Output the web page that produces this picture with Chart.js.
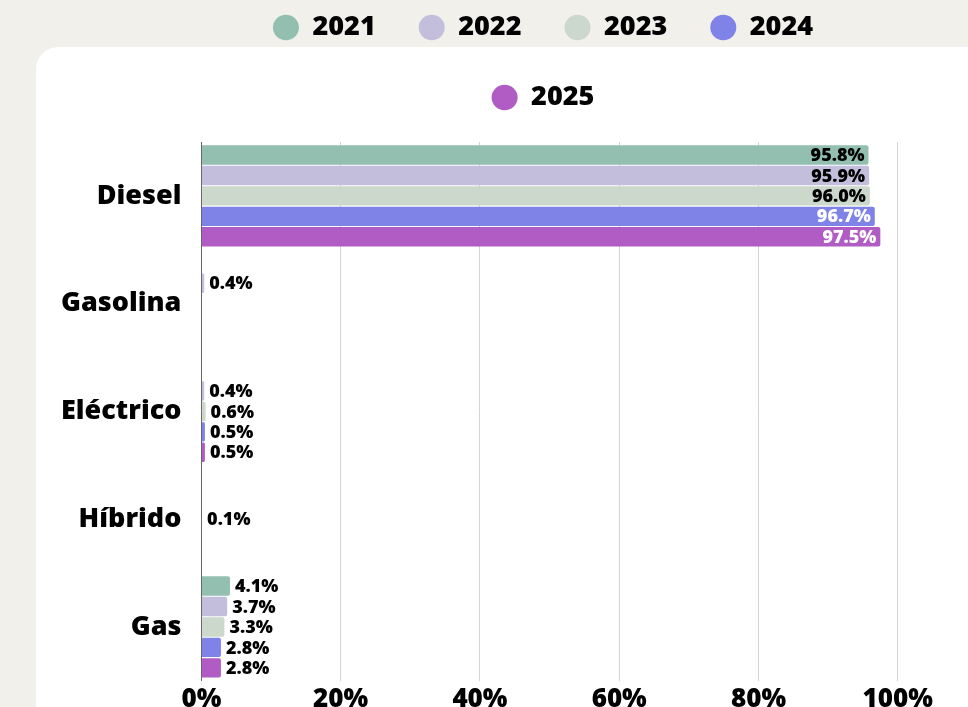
<!DOCTYPE html>
<html>
<head>
<meta charset="utf-8">
<script src="https://cdn.jsdelivr.net/npm/chart.js@4"></script>
<style>
  html, body { margin: 0; padding: 0; }
  body {
    width: 968px; height: 707px; overflow: hidden;
    background: #f1f0eb; position: relative;
    font-family: "Open Sans", sans-serif;
  }
  .card {
    position: absolute; left: 36px; top: 47px;
    width: 1000px; height: 760px;
    background: #fff; border-radius: 22px;
  }
  .wrap {
    position: absolute; left: 0; top: -29px;
    width: 1086px; height: 747px;
  }
</style>
</head>
<body>
<div class="card"></div>
<div class="wrap"><canvas id="fuelChart"></canvas></div>
<script>
// share of fuel type per year (%)
const categories = ['Diesel', 'Gasolina', 'Eléctrico', 'Híbrido', 'Gas'];
const years = ['2021', '2022', '2023', '2024', '2025'];
const values2021 = [95.8, null, null, null, 4.1];
const values2022 = [95.9, 0.4, 0.4, null, 3.7];
const values2023 = [96.0, null, 0.6, 0.1, 3.3];
const values2024 = [96.7, null, 0.5, null, 2.8];
const values2025 = [97.5, null, 0.5, null, 2.8];
const xTicks = [0, 20, 40, 60, 80, 100, 120];

const seriesValues = [values2021, values2022, values2023, values2024, values2025];
const colors = ['#93bfb1', '#c3bedc', '#ccd8cb', '#7f82e6', '#b05cc4'];
const labelColors = ['#000', '#000', '#000', '#fff', '#fff'];

const FONT = '"Open Sans", sans-serif';
const LEGEND_W = 680;

// draws the % value at the end of every bar
const valueLabels = {
    id: 'valueLabels',
    afterDatasetsDraw(chart) {
        const ctx = chart.ctx;
        ctx.save();
        ctx.font = '800 18px ' + FONT;
        ctx.textBaseline = 'middle';
        chart.data.datasets.forEach((ds, i) => {
            const meta = chart.getDatasetMeta(i);
            meta.data.forEach((bar, j) => {
                const v = ds.data[j];
                if (v === null || v === undefined) return;
                const text = v.toFixed(1) + '%';
                if (v > 50) {
                    ctx.textAlign = 'right';
                    ctx.fillStyle = labelColors[i];
                    ctx.fillText(text, bar.x - 4, bar.y + 1);
                } else {
                    ctx.textAlign = 'left';
                    ctx.fillStyle = '#000';
                    ctx.fillText(text, bar.x + 5, bar.y + 1);
                }
            });
        });
        ctx.restore();
    }
};

// legend wraps after four years, plus extra room under it
const legendGap = {
    id: 'legendGap',
    beforeInit(chart) {
        const legend = chart.legend;
        if (!legend) return;
        const fit = legend.fit;
        legend.fit = function () {
            this.maxWidth = Math.min(this.maxWidth, LEGEND_W);
            fit.call(this);
            this.height += 21;
        };
        const draw = legend.draw;
        legend.draw = function () {
            const l = this.left, r = this.right;
            const c = (l + r) / 2 + 4;
            this.left = c - LEGEND_W / 2;
            this.right = c + LEGEND_W / 2;
            draw.call(this);
            this.left = l;
            this.right = r;
        };
    }
};

const ctx = document.getElementById('fuelChart');

new Chart(ctx, {
    type: 'bar',
    data: {
        labels: categories,
        datasets: years.map((y, i) => ({
            label: y,
            data: seriesValues[i],
            backgroundColor: colors[i],
            borderRadius: 2,
            categoryPercentage: 0.95,
            barPercentage: 0.95
        }))
    },
    options: {
        indexAxis: 'y',
        responsive: true,
        maintainAspectRatio: false,
        animation: false,
        layout: { padding: { left: 41, right: 49, top: 0, bottom: 0 } },
        scales: {
            x: {
                min: 0,
                max: 120,
                afterBuildTicks(scale) {
                    scale.ticks = xTicks.map(v => ({ value: v }));
                },
                grid: { color: '#d3d3d3', drawTicks: false },
                border: { display: false },
                ticks: {
                    padding: 3,
                    color: '#000',
                    font: { family: FONT, size: 26, weight: '800' },
                    callback: v => v + '%'
                }
            },
            y: {
                grid: { display: false, drawTicks: false },
                border: { display: true, color: '#666', width: 1 },
                ticks: {
                    padding: 20,
                    color: '#000',
                    font: { family: FONT, size: 27, weight: '800' }
                }
            }
        },
        plugins: {
            legend: {
                position: 'top',
                labels: {
                    usePointStyle: true,
                    pointStyle: 'circle',
                    boxHeight: 18,
                    pointStyleWidth: 26,
                    padding: 43,
                    color: '#000',
                    font: { family: FONT, size: 27, weight: '800' }
                }
            },
            tooltip: { enabled: false }
        }
    },
    plugins: [valueLabels, legendGap]
});
</script>
</body>
</html>
